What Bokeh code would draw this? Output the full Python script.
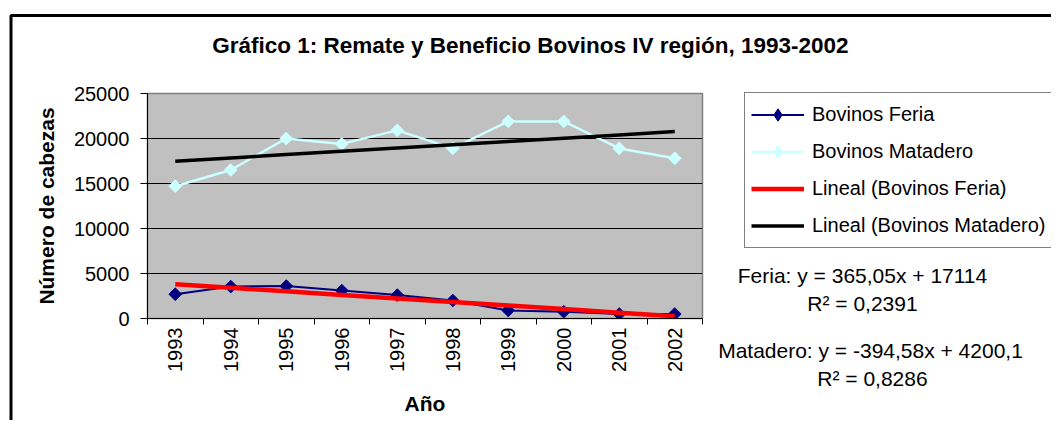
import math
from bokeh.plotting import figure
from bokeh.models import FixedTicker, Range1d, Legend, LegendItem, Label, BoxAnnotation
from bokeh.embed import file_html
from bokeh.resources import INLINE

# ---------------- data ----------------
years = [1993, 1994, 1995, 1996, 1997, 1998, 1999, 2000, 2001, 2002]
feria = [2700, 3550, 3600, 3100, 2600, 2000, 900, 750, 500, 500]
matadero = [14700, 16500, 20000, 19400, 20900, 18900, 21900, 21900, 18900, 17800]

# linear trend coefficients (as printed on the chart, x = 1..10)
trend_feria_slope = -394.58
trend_feria_intercept = 4200.1
trend_matadero_slope = 365.05
trend_matadero_intercept = 17114

y_ticks = [0, 5000, 10000, 15000, 20000, 25000]
series_labels = ["Bovinos Feria", "Bovinos Matadero",
                 "Lineal (Bovinos Feria)", "Lineal (Bovinos Matadero)"]
title_text = "Gráfico 1: Remate  y Beneficio Bovinos IV región, 1993-2002"
x_title = "Año"
y_title = "Número de cabezas"
eq_texts = ["Feria: y = 365,05x + 17114", "R² = 0,2391",
            "Matadero: y = -394,58x + 4200,1", "R² = 0,8286"]

FONT = "Liberation Sans"
NAVY = "#000080"
CYAN = "#CCFFFF"
W, H = 1051, 420

t_index = list(range(1, len(years) + 1))
trend_feria = [trend_feria_slope * t + trend_feria_intercept for t in t_index]
trend_matadero = [trend_matadero_slope * t + trend_matadero_intercept for t in t_index]

# ---------------- main chart ----------------
p = figure(width=W, height=H, output_backend="svg", toolbar_location=None,
           x_range=Range1d(years[0] - 0.5, years[-1] + 0.5),
           y_range=Range1d(y_ticks[0], y_ticks[-1]),
           min_border_left=147, min_border_right=349,
           min_border_top=93, min_border_bottom=102)
p.title.visible = False
p.background_fill_color = "#C0C0C0"
p.border_fill_color = "white"
p.outline_line_color = "#808080"
p.outline_line_width = 1.5

p.xgrid.visible = False
p.ygrid.ticker = FixedTicker(ticks=y_ticks[1:-1])
p.ygrid.grid_line_color = "black"
p.ygrid.grid_line_width = 1

ya = p.yaxis[0]
ya.ticker = FixedTicker(ticks=y_ticks)
ya.axis_line_color = "black"
ya.major_tick_out = 7
ya.major_tick_in = 0
ya.minor_tick_out = 0
ya.minor_tick_in = 0
ya.major_tick_line_color = "black"
ya.major_label_standoff = 11
ya.major_label_text_font = FONT
ya.major_label_text_font_size = "20px"
ya.major_label_text_color = "black"
ya.axis_label = y_title
ya.axis_label_text_font = FONT
ya.axis_label_text_font_style = "bold"
ya.axis_label_text_font_size = "21px"
ya.axis_label_text_color = "black"
ya.axis_label_standoff = 13

xa = p.xaxis[0]
xa.ticker = FixedTicker(ticks=years, minor_ticks=[y - 0.5 for y in years] + [years[-1] + 0.5])
xa.axis_line_color = "black"
xa.major_tick_out = 0
xa.major_tick_in = 0
xa.minor_tick_out = 6
xa.minor_tick_in = 0
xa.minor_tick_line_color = "black"
xa.major_label_orientation = math.pi / 2
xa.major_label_standoff = 3
xa.major_label_text_font = FONT
xa.major_label_text_font_size = "20px"
xa.major_label_text_color = "black"
xa.axis_label = x_title
xa.axis_label_text_font = FONT
xa.axis_label_text_font_style = "bold"
xa.axis_label_text_font_size = "21px"
xa.axis_label_text_color = "black"
xa.axis_label_standoff = 17

feria_style = dict(line_color=NAVY, line_width=2)
mat_style = dict(line_color=CYAN, line_width=2.5)
tf_style = dict(line_color="#FF0000", line_width=4.5)
tm_style = dict(line_color="black", line_width=3.5)
mk_feria = dict(marker="square", angle=math.pi / 4, size=9, fill_color=NAVY, line_color=NAVY)
mk_mat = dict(marker="square", angle=math.pi / 4, size=9, fill_color=CYAN, line_color=CYAN)

p.line(years, feria, **feria_style)
p.scatter(years, feria, **mk_feria)
p.line(years, matadero, **mat_style)
p.scatter(years, matadero, **mk_mat)
p.line(years, trend_feria, **tf_style)
p.line(years, trend_matadero, **tm_style)

# ---------------- transparent overlay for title, legend, equations, frame ----------------
ov = figure(width=W, height=H, output_backend="svg", toolbar_location=None,
            x_range=Range1d(0, 1), y_range=Range1d(0, 1),
            x_axis_type=None, y_axis_type=None, min_border=0)
ov.title.visible = False
ov.background_fill_alpha = 0
ov.border_fill_alpha = 0
ov.outline_line_color = None
ov.styles = {"margin-top": f"-{H}px"}

# legend proxies (off-range points, so nothing shows in the frame)
off_x = [-10, -9]
off_y = [-10, -9]
lg_feria = dict(marker="diamond", size=15, fill_color=NAVY, line_color=NAVY)
lg_mat = dict(marker="diamond", size=15, fill_color=CYAN, line_color=CYAN)
g1 = ov.line(off_x, off_y, **feria_style)
g1m = ov.scatter(off_x[:1], off_y[:1], **lg_feria)
g2 = ov.line(off_x, off_y, **mat_style)
g2m = ov.scatter(off_x[:1], off_y[:1], **lg_mat)
g3 = ov.line(off_x, off_y, **tf_style)
g4 = ov.line(off_x, off_y, **tm_style)

legend = Legend(items=[
    LegendItem(label=series_labels[0], renderers=[g1, g1m]),
    LegendItem(label=series_labels[1], renderers=[g2, g2m]),
    LegendItem(label=series_labels[2], renderers=[g3]),
    LegendItem(label=series_labels[3], renderers=[g4]),
], location=(744, 172))
legend.label_text_font = FONT
legend.label_text_font_size = "20px"
legend.label_text_color = "black"
legend.glyph_width = 53
legend.glyph_height = 31
legend.label_height = 31
legend.spacing = 6
legend.padding = 6
legend.label_standoff = 8
legend.margin = 0
legend.border_line_color = "black"
legend.border_line_width = 1.5
legend.background_fill_color = "white"
legend.background_fill_alpha = 1
ov.add_layout(legend, "center")

ov.add_layout(Label(x=533, y=375, x_units="screen", y_units="screen", text=title_text,
                    text_align="center", text_baseline="middle", text_font=FONT,
                    text_font_style="bold", text_font_size="22.5px", text_color="black"))

eq_pos = [(862, 145), (862, 117), (870, 70), (872, 42)]
for txt, (sx, sy) in zip(eq_texts, eq_pos):
    ov.add_layout(Label(x=sx, y=sy, x_units="screen", y_units="screen", text=txt,
                        text_align="center", text_baseline="middle", text_font=FONT,
                        text_font_size="21px", text_color="black"))

ov.add_layout(BoxAnnotation(left=10.5, right=3000, bottom=-3000, top=405,
                            left_units="screen", right_units="screen",
                            bottom_units="screen", top_units="screen",
                            fill_alpha=0, line_color="black", line_alpha=1,
                            line_width=3))

open("out.html", "w").write(file_html([p, ov], INLINE))
